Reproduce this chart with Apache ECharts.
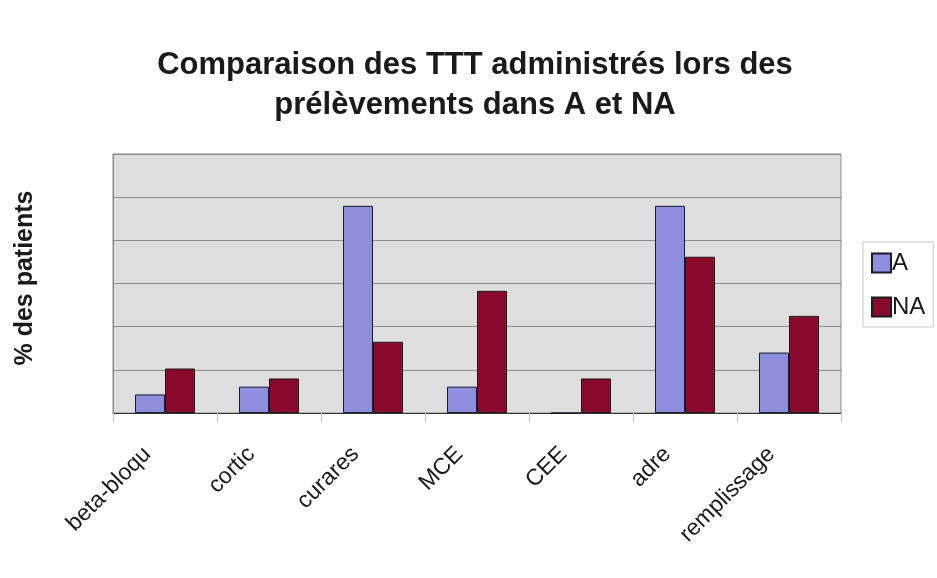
<!DOCTYPE html>
<html>
<head>
<meta charset="utf-8">
<script src="https://cdn.jsdelivr.net/npm/echarts@6/dist/echarts.min.js"></script>
<style>
html,body{margin:0;padding:0;background:#fff;}
#chart{width:937px;height:578px;}
</style>
</head>
<body>
<div id="chart"></div>
<script>
const categories = ['beta-bloqu', 'cortic', 'curares', 'MCE', 'CEE', 'adre', 'remplissage'];
const seriesA = [4.3, 6.1, 48.0, 6.1, 0, 48.0, 14.0];
const seriesNA = [10.3, 8.0, 16.5, 28.3, 8.0, 36.2, 22.5];
const titleLines = ['Comparaison des TTT administrés lors des', 'prélèvements dans A et NA'];
const yAxisTitle = '% des patients';

const FONT = '"Liberation Sans", Arial, sans-serif';
const chart = echarts.init(document.getElementById('chart'));
chart.setOption({
  animation: false,
  backgroundColor: '#ffffff',
  title: {
    text: titleLines.join('\n'),
    left: 470,
    textAlign: 'center',
    top: 40,
    textStyle: { fontFamily: FONT, fontSize: 31, fontWeight: 'bold', color: '#1a1a1a', lineHeight: 40 }
  },
  graphic: [{
    type: 'text',
    x: 25,
    y: 278,
    rotation: Math.PI / 2,
    style: {
      text: yAxisTitle,
      fontFamily: FONT,
      fontSize: 25,
      fontWeight: 'bold',
      fill: '#1a1a1a',
      align: 'center',
      verticalAlign: 'middle'
    }
  }],
  legend: {
    orient: 'vertical',
    left: 863,
    top: 242,
    backgroundColor: '#ffffff',
    borderColor: '#c8c8c8',
    borderWidth: 1,
    padding: [9, 8, 8, 8],
    itemWidth: 19,
    itemHeight: 19,
    itemGap: 20,
    icon: 'rect',
    textStyle: { fontFamily: FONT, fontSize: 24, color: '#1a1a1a', padding: [0, 0, 0, -4] },
    data: ['A', 'NA']
  },
  grid: {
    left: 113, right: 96, top: 154, bottom: 165,
    show: true,
    backgroundColor: '#dedede',
    borderColor: '#8a8a8a',
    borderWidth: 1
  },
  xAxis: {
    type: 'category',
    data: categories,
    axisLine: { lineStyle: { color: '#333', width: 1 } },
    axisTick: { show: true, length: 9, lineStyle: { color: '#bbb' } },
    axisLabel: {
      rotate: 45,
      margin: 20,
      padding: [0, 25, 0, 0],
      fontFamily: FONT,
      fontSize: 23,
      color: '#1a1a1a',
      interval: 0
    }
  },
  yAxis: {
    type: 'value',
    min: 0,
    max: 60,
    interval: 10,
    axisLabel: { show: false },
    axisTick: { show: false },
    axisLine: { show: true, lineStyle: { color: '#8a8a8a' } },
    splitLine: { lineStyle: { color: '#8c8c8c', width: 1 } }
  },
  series: [
    {
      name: 'A', type: 'bar', data: seriesA,
      barWidth: 30, barGap: '0%',
      itemStyle: { color: '#8f8edc', borderColor: '#1a1a2a', borderWidth: 1 }
    },
    {
      name: 'NA', type: 'bar', data: seriesNA,
      barWidth: 30,
      itemStyle: { color: '#8a0a2e', borderColor: '#1a1a1a', borderWidth: 1 }
    }
  ]
});
</script>
</body>
</html>
